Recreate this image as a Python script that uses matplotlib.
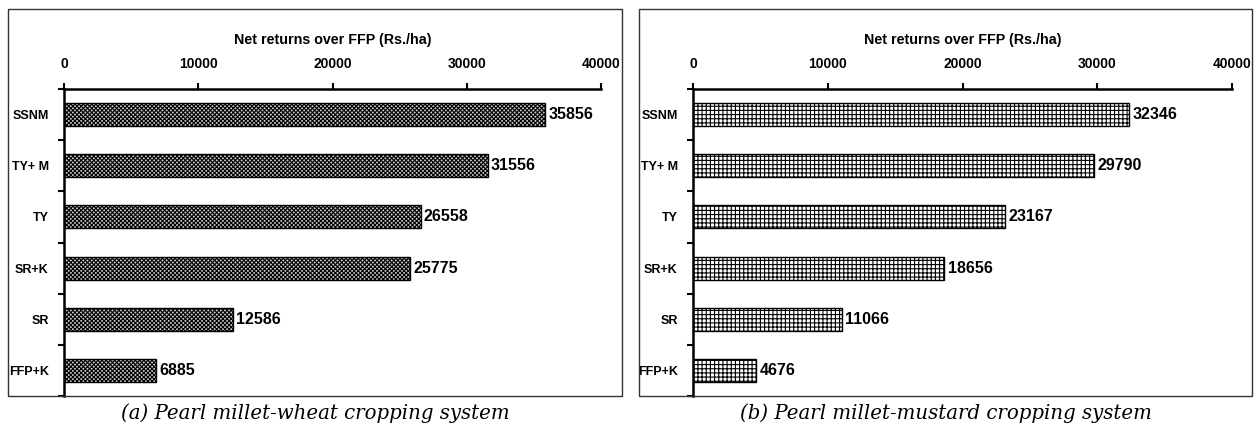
import numpy as np
import matplotlib.pyplot as plt
from matplotlib.patches import Rectangle

plt.rcParams['font.family'] = ['Liberation Sans', 'DejaVu Sans']
plt.rcParams['hatch.color'] = 'black'
plt.rcParams['hatch.linewidth'] = 0.8

treatments = ['SSNM', 'TY+ M', 'TY', 'SR+K', 'SR', 'FFP+K']
wheat_returns = [35856, 31556, 26558, 25775, 12586, 6885]
mustard_returns = [32346, 29790, 23167, 18656, 11066, 4676]
x_ticks = [0, 10000, 20000, 30000, 40000]

W, H = 1256, 430
fig = plt.figure(figsize=(W / 100, H / 100), dpi=100)


def fx(px):
    return px / W


def fy(py):
    return 1 - py / H


def draw_panel(rect, box, values, hatch, face, caption):
    # outer frame around each panel
    bx0, by0, bx1, by1 = box
    fig.patches.append(Rectangle((fx(bx0), fy(by1)), fx(bx1 - bx0), fy(by0) - fy(by1),
                                 transform=fig.transFigure, fill=False,
                                 edgecolor='#333333', linewidth=1.0))
    ax = fig.add_axes(rect)
    y = np.arange(len(values))
    bars = ax.barh(y, values, height=0.45, color=face, edgecolor='black',
                   hatch=hatch, linewidth=1.0)
    ax.set_xlim(0, 40000)
    ax.set_ylim(len(values) - 0.5, -0.5)
    ax.xaxis.tick_top()
    ax.xaxis.set_label_position('top')
    ax.set_xticks(x_ticks)
    ax.set_xticklabels([str(t) for t in x_ticks], fontsize=10, fontweight='bold')
    ax.set_xlabel('Net returns over FFP (Rs./ha)', fontsize=10.3, fontweight='bold', labelpad=9)
    ax.tick_params(axis='x', direction='out', length=4, width=1.5, pad=9)
    ax.set_yticks(y)
    ax.set_yticklabels(treatments, fontsize=9, fontweight='bold')
    ax.set_yticks(np.arange(len(values) + 1) - 0.5, minor=True)
    ax.tick_params(axis='y', which='major', length=0, pad=11)
    ax.tick_params(axis='y', which='minor', direction='out', length=4, width=1.5)
    for side in ['right', 'bottom']:
        ax.spines[side].set_visible(False)
    for side in ['top', 'left']:
        ax.spines[side].set_linewidth(1.8)
    for b, v in zip(bars, values):
        ax.text(v + 250, b.get_y() + b.get_height() / 2, str(v), va='center', ha='left',
                fontsize=11.5, fontweight='bold')
    fig.text(fx((bx0 + bx1) / 2), fy(413), caption, ha='center', va='center',
             fontsize=14.2, style='italic', family=['DejaVu Serif'])
    return ax


draw_panel([fx(64), fy(396), fx(601 - 64), fy(89) - fy(396)], (8, 9, 622, 396),
           wheat_returns, 'xxxxxxxx', '#c8c8c8', '(a) Pearl millet-wheat cropping system')
draw_panel([fx(693), fy(396), fx(1232 - 693), fy(89) - fy(396)], (639, 9, 1252, 396),
           mustard_returns, '++++', 'white', '(b) Pearl millet-mustard cropping system')

fig.savefig('out.png', dpi=100)
